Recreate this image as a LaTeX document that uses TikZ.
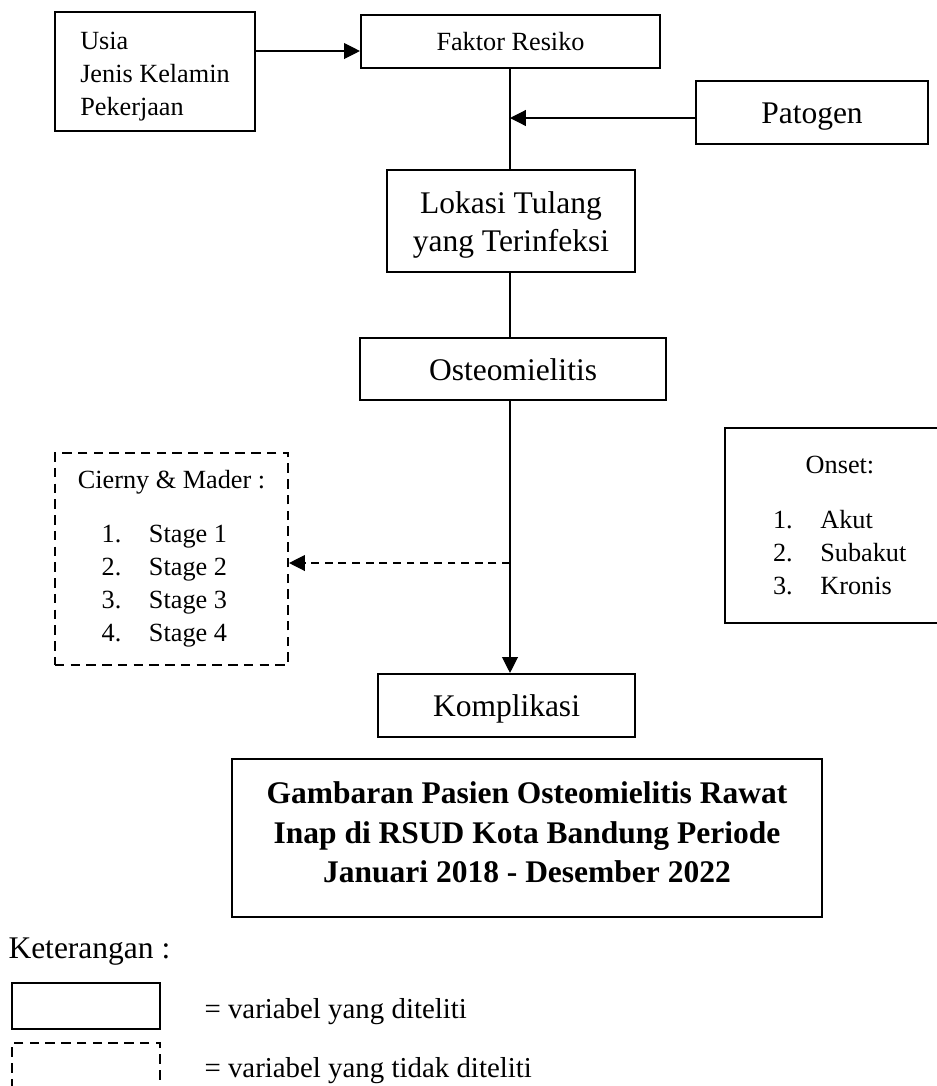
\documentclass[tikz,border=0pt]{standalone}
\usepackage{fontspec}
\setmainfont{Liberation Serif}
\usetikzlibrary{arrows.meta,positioning}
\tikzset
{
    varbox/.style    = {rectangle, draw=black, line width=0.8pt, align=center, inner sep=0pt},
    dashbox/.style   = {varbox, dash pattern=on 3.6pt off 2.4pt},
    boxsize/.style 2 args = {minimum width=#1*0.381pt, minimum height=#2*0.381pt},
    smalltext/.style = {font=\fontsize{10}{12.6}\selectfont},
    midtext/.style   = {font=\fontsize{11}{13.2}\selectfont},
    bigtext/.style   = {font=\fontsize{12}{14.5}\selectfont},
    bigline/.style   = {bigtext, text height=8.4pt, text depth=0pt},
    link/.style      = {line width=0.45pt},
    arrowlink/.style = {link, -{Triangle[length=6pt,width=6pt]}},
    dashlink/.style  = {arrowlink, dash pattern=on 3pt off 2.2pt}
}
\newcommand{\numitem}[3]{\hspace*{#1}\makebox[18pt][l]{#2}#3}
\newcommand{\padtop}[1]{\rule{0pt}{#1}}
\newcommand{\padbot}[1]{\rule[-#1]{0pt}{0pt}}

\begin{document}
\begin{tikzpicture}[x=0.381pt, y=-0.381pt]
\useasboundingbox (0,0) rectangle (937,1086);
\node [varbox, boxsize={200}{119}, smalltext, align=left] at (155,71.5) (risk) {\padtop{10.6pt}Usia\\Jenis Kelamin\\Pekerjaan};
\node [varbox, boxsize={299}{53}, smalltext] at (510.5,41.5) (faktor) {Faktor Resiko};
\node [varbox, boxsize={232}{63}, bigline] at (812,112.5) (patogen) {Patogen};
\node [varbox, boxsize={248}{102}, bigtext] at (511,221) (lokasi) {\padtop{11.2pt}Lokasi Tulang\\yang Terinfeksi};
\node [varbox, boxsize={306}{62}, bigline] at (513,369) (osteo) {Osteomielitis};
\node [varbox, boxsize={257}{63}, bigline] at (506.5,705.5) (kompl) {Komplikasi};
\node [dashbox, boxsize={233}{212}, smalltext, align=left] at (171.5,559) (cierny) {Cierny \& Mader :\\[8pt]\numitem{9.1pt}{1.}{Stage 1}\\\numitem{9.1pt}{2.}{Stage 2}\\\numitem{9.1pt}{3.}{Stage 3}\\\numitem{9.1pt}{4.}{Stage 4}};
\node [varbox, boxsize={230}{195}, smalltext, align=left, text width=51pt] at (840,525.5) (onset) {\makebox[51pt]{Onset:}\\[8.4pt]\numitem{0pt}{1.}{Akut}\\\numitem{0pt}{2.}{Subakut}\\\numitem{0pt}{3.}{Kronis}};
\node [varbox, boxsize={590}{158}, font=\fontsize{12}{15.2}\selectfont\bfseries] at (527,838) (judul) {Gambaran Pasien Osteomielitis Rawat\\Inap di RSUD Kota Bandung Periode\\Januari 2018 - Desember 2022\padbot{4.5pt}};
\node [bigtext, anchor=base west, inner sep=0pt] at (8,958) (ket) {Keterangan :};
\node [varbox, boxsize={148}{46}] at (86,1006) (legsolid) {};
\node [dashbox, boxsize={148}{46}] at (86,1066) (legdash) {};
\node [midtext, anchor=base west, inner sep=0pt] at (204,1018) (legsolidtxt) {= variabel yang diteliti};
\node [midtext, anchor=base west, inner sep=0pt] at (204,1077) (legdashtxt) {= variabel yang tidak diteliti};
\coordinate (axis) at (510,0);
\coordinate (riskpt) at (300,51);
\coordinate (patpt) at (510,118);
\coordinate (branch) at (510,563);
\draw [arrowlink] (risk.east |- riskpt) -- (faktor.west |- riskpt);
\draw [link] (faktor.south -| axis) -- (lokasi.north -| axis);
\draw [arrowlink] (patogen.west |- patpt) -- (patpt);
\draw [link] (lokasi.south -| axis) -- (osteo.north -| axis);
\draw [arrowlink] (osteo.south -| axis) -- (kompl.north -| axis);
\draw [dashlink] (branch) -- (cierny.east |- branch);
\end{tikzpicture}
\end{document}
